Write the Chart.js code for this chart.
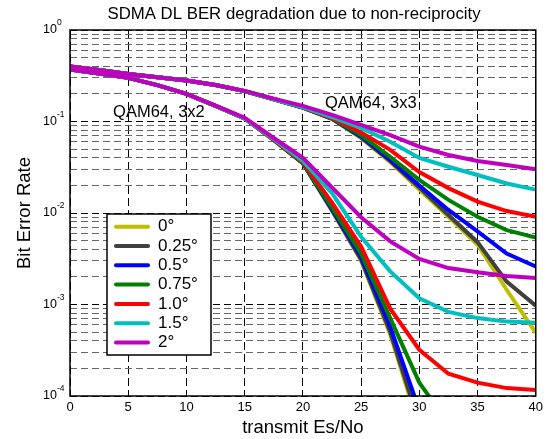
<!DOCTYPE html>
<html>
<head>
<meta charset="utf-8">
<script src="https://cdn.jsdelivr.net/npm/chart.js@4.4.1/dist/chart.umd.min.js"></script>
<style>
  html, body { margin: 0; padding: 0; background: #fff; }
</style>
</head>
<body>
<canvas id="ber" width="547" height="439"></canvas>
<script>
// Es/No sample points (dB)
const snr = [0, 2.5, 5, 7.5, 10, 12.5, 15, 17.5, 20, 22.5, 25, 27.5, 30, 32.5, 35, 37.5, 40];

const angles = ['0°', '0.25°', '0.5°', '0.75°', '1.0°', '1.5°', '2°'];
const colors = ['#bfbf00', '#404040', '#0000ff', '#008000', '#ff0000', '#00bfbf', '#bf00bf'];

// QAM64, 3x3
const qam3x3_0deg   = [0.40, 0.365, 0.33, 0.305, 0.28, 0.25, 0.215, 0.175, 0.142, 0.107, 0.066, 0.036, 0.018, 0.0091, 0.0045, 0.00145, 0.00049];
const qam3x3_025deg = [0.40, 0.365, 0.33, 0.305, 0.28, 0.25, 0.215, 0.175, 0.142, 0.107, 0.067, 0.037, 0.019, 0.0095, 0.0048, 0.00178, 0.00097];
const qam3x3_05deg  = [0.40, 0.365, 0.33, 0.305, 0.28, 0.25, 0.215, 0.175, 0.142, 0.108, 0.069, 0.038, 0.020, 0.0108, 0.0063, 0.0036, 0.0026];
const qam3x3_075deg = [0.40, 0.365, 0.33, 0.305, 0.28, 0.25, 0.215, 0.175, 0.142, 0.108, 0.071, 0.041, 0.023, 0.0139, 0.0091, 0.0065, 0.0054];
const qam3x3_1deg   = [0.40, 0.365, 0.33, 0.305, 0.28, 0.25, 0.215, 0.175, 0.143, 0.109, 0.076, 0.049, 0.028, 0.0187, 0.0133, 0.0105, 0.0091];
const qam3x3_15deg  = [0.40, 0.365, 0.33, 0.305, 0.28, 0.25, 0.215, 0.175, 0.144, 0.112, 0.085, 0.060, 0.040, 0.032, 0.026, 0.021, 0.018];
const qam3x3_2deg   = [0.40, 0.365, 0.33, 0.305, 0.28, 0.25, 0.216, 0.178, 0.148, 0.118, 0.092, 0.071, 0.053, 0.043, 0.037, 0.0335, 0.030];

// QAM64, 3x2
const qam3x2_0deg   = [0.37, 0.335, 0.30, 0.25, 0.20, 0.148, 0.108, 0.063, 0.035, 0.0105, 0.0030, 0.00047, 0.000045, null, null, null, null];
const qam3x2_025deg = [0.37, 0.335, 0.30, 0.25, 0.20, 0.148, 0.108, 0.063, 0.035, 0.0107, 0.0031, 0.00050, 0.000050, null, null, null, null];
const qam3x2_05deg  = [0.37, 0.335, 0.30, 0.25, 0.20, 0.148, 0.108, 0.063, 0.035, 0.0110, 0.0033, 0.00057, 0.000070, null, null, null, null];
const qam3x2_075deg = [0.37, 0.335, 0.30, 0.25, 0.20, 0.148, 0.108, 0.063, 0.035, 0.0115, 0.0036, 0.00071, 0.00014, 0.000050, null, null, null];
const qam3x2_1deg   = [0.37, 0.335, 0.30, 0.25, 0.20, 0.148, 0.108, 0.063, 0.036, 0.013, 0.0043, 0.00090, 0.00032, 0.000175, 0.00014, 0.000122, 0.000116];
const qam3x2_15deg  = [0.37, 0.335, 0.30, 0.25, 0.20, 0.148, 0.108, 0.064, 0.037, 0.0165, 0.0055, 0.0023, 0.00117, 0.00083, 0.00071, 0.00065, 0.00063];
const qam3x2_2deg   = [0.37, 0.335, 0.30, 0.25, 0.20, 0.149, 0.110, 0.066, 0.040, 0.019, 0.0090, 0.0049, 0.00315, 0.0025, 0.00225, 0.00205, 0.00195];

const curves3x3 = [qam3x3_0deg, qam3x3_025deg, qam3x3_05deg, qam3x3_075deg, qam3x3_1deg, qam3x3_15deg, qam3x3_2deg];
const curves3x2 = [qam3x2_0deg, qam3x2_025deg, qam3x2_05deg, qam3x2_075deg, qam3x2_1deg, qam3x2_15deg, qam3x2_2deg];

// y tick decades (labels drawn as 10^n)
const yDecades = [0, -1, -2, -3, -4];

// text notes placed in data coordinates
const notes = ['QAM64, 3x2', 'QAM64, 3x3'];
const noteX = [3.7, 21.9];
const noteY = [0.124, 0.159];

const FONT = "'Liberation Sans', Arial, Helvetica, sans-serif";

const datasets = [];
[curves3x2, curves3x3].forEach((group) => {
  group.forEach((vals, i) => {
    datasets.push({
      label: angles[i],
      data: snr.map((x, j) => ({ x: x, y: vals[j] })),
      borderColor: colors[i],
      backgroundColor: colors[i],
      borderWidth: 4,
      pointRadius: 0,
      tension: 0,
      fill: false,
      spanGaps: false,
      order: 10 - i,
    });
  });
});

const decor = {
  id: 'decor',
  afterDraw(chart) {
    const { ctx, chartArea: a, scales } = chart;
    const xs = scales.x, ys = scales.y;
    ctx.save();

    // axes frame
    ctx.strokeStyle = '#000';
    ctx.lineWidth = 1.5;
    ctx.setLineDash([]);
    ctx.strokeRect(a.left, a.top, a.right - a.left, a.bottom - a.top);

    // y tick labels with exponents
    ctx.fillStyle = '#000';
    ctx.textBaseline = 'middle';
    yDecades.forEach((e) => {
      const y = ys.getPixelForValue(Math.pow(10, e));
      ctx.font = '12.5px ' + FONT;
      ctx.textAlign = 'right';
      ctx.fillText('10', a.left - 13, y);
      ctx.font = '8.5px ' + FONT;
      ctx.textAlign = 'left';
      ctx.fillText(e === 0 ? '0' : '-' + Math.abs(e), a.left - 13, y - 7);
    });

    // title
    ctx.font = '16.8px ' + FONT;
    ctx.textAlign = 'center';
    ctx.fillText('SDMA DL BER degradation due to non-reciprocity', 294, 14);

    // curve group notes
    ctx.font = '16.5px ' + FONT;
    ctx.textAlign = 'left';
    notes.forEach((t, i) => {
      ctx.fillText(t, xs.getPixelForValue(noteX[i]), ys.getPixelForValue(noteY[i]));
    });

    // legend
    const lx = 107, ly = 214, lw = 104, lh = 141;
    ctx.fillStyle = '#fff';
    ctx.fillRect(lx, ly, lw, lh);
    ctx.strokeStyle = '#000';
    ctx.lineWidth = 1.5;
    ctx.strokeRect(lx, ly, lw, lh);
    ctx.font = '17px ' + FONT;
    ctx.lineCap = 'round';
    angles.forEach((lab, i) => {
      const y = ly + 12.7 + i * 19.3;
      ctx.strokeStyle = colors[i];
      ctx.lineWidth = 4;
      ctx.beginPath();
      ctx.moveTo(lx + 9, y);
      ctx.lineTo(lx + 41, y);
      ctx.stroke();
      ctx.fillStyle = '#000';
      ctx.fillText(lab, lx + 51, y);
    });
    ctx.restore();
  },
};

new Chart(document.getElementById('ber'), {
  type: 'line',
  data: { datasets: datasets },
  options: {
    responsive: false,
    animation: false,
    devicePixelRatio: 1,
    layout: { padding: { top: 30, right: 11, left: 0, bottom: 0 } },
    plugins: {
      legend: { display: false },
      tooltip: { enabled: false },
      title: { display: false },
    },
    scales: {
      x: {
        type: 'linear',
        min: 0,
        max: 40,
        afterFit: (scale) => { scale.height = 43; },
        ticks: { stepSize: 5, color: '#000', font: { family: FONT, size: 13 }, padding: 4, maxRotation: 0 },
        grid: { color: '#000', lineWidth: 1, drawTicks: false },
        border: { display: false, dash: [8, 4] },
        title: {
          display: true,
          text: 'transmit Es/No',
          color: '#000',
          font: { family: FONT, size: 18.5 },
          padding: { top: 0, bottom: 0 },
        },
      },
      y: {
        type: 'logarithmic',
        min: 1e-4,
        max: 1,
        afterFit: (scale) => { scale.width = 70; },
        afterBuildTicks: (scale) => {
          const t = [];
          for (let e = -4; e < 0; e++) {
            for (let m = 1; m < 10; m++) t.push({ value: m * Math.pow(10, e) });
          }
          t.push({ value: 1 });
          scale.ticks = t;
        },
        ticks: { display: false, autoSkip: false },
        grid: {
          drawTicks: false,
          lineWidth: 1,
          color: (c) => {
            const v = c.tick ? c.tick.value : 1;
            const l = Math.log10(v);
            return Math.abs(l - Math.round(l)) < 1e-6 ? '#000' : '#666';
          },
        },
        border: { display: false, dash: [7, 4] },
        title: {
          display: true,
          text: 'Bit Error Rate',
          color: '#000',
          font: { family: FONT, size: 18.5 },
          padding: { top: 14, bottom: 0 },
        },
      },
    },
  },
  plugins: [decor],
});
</script>
</body>
</html>
